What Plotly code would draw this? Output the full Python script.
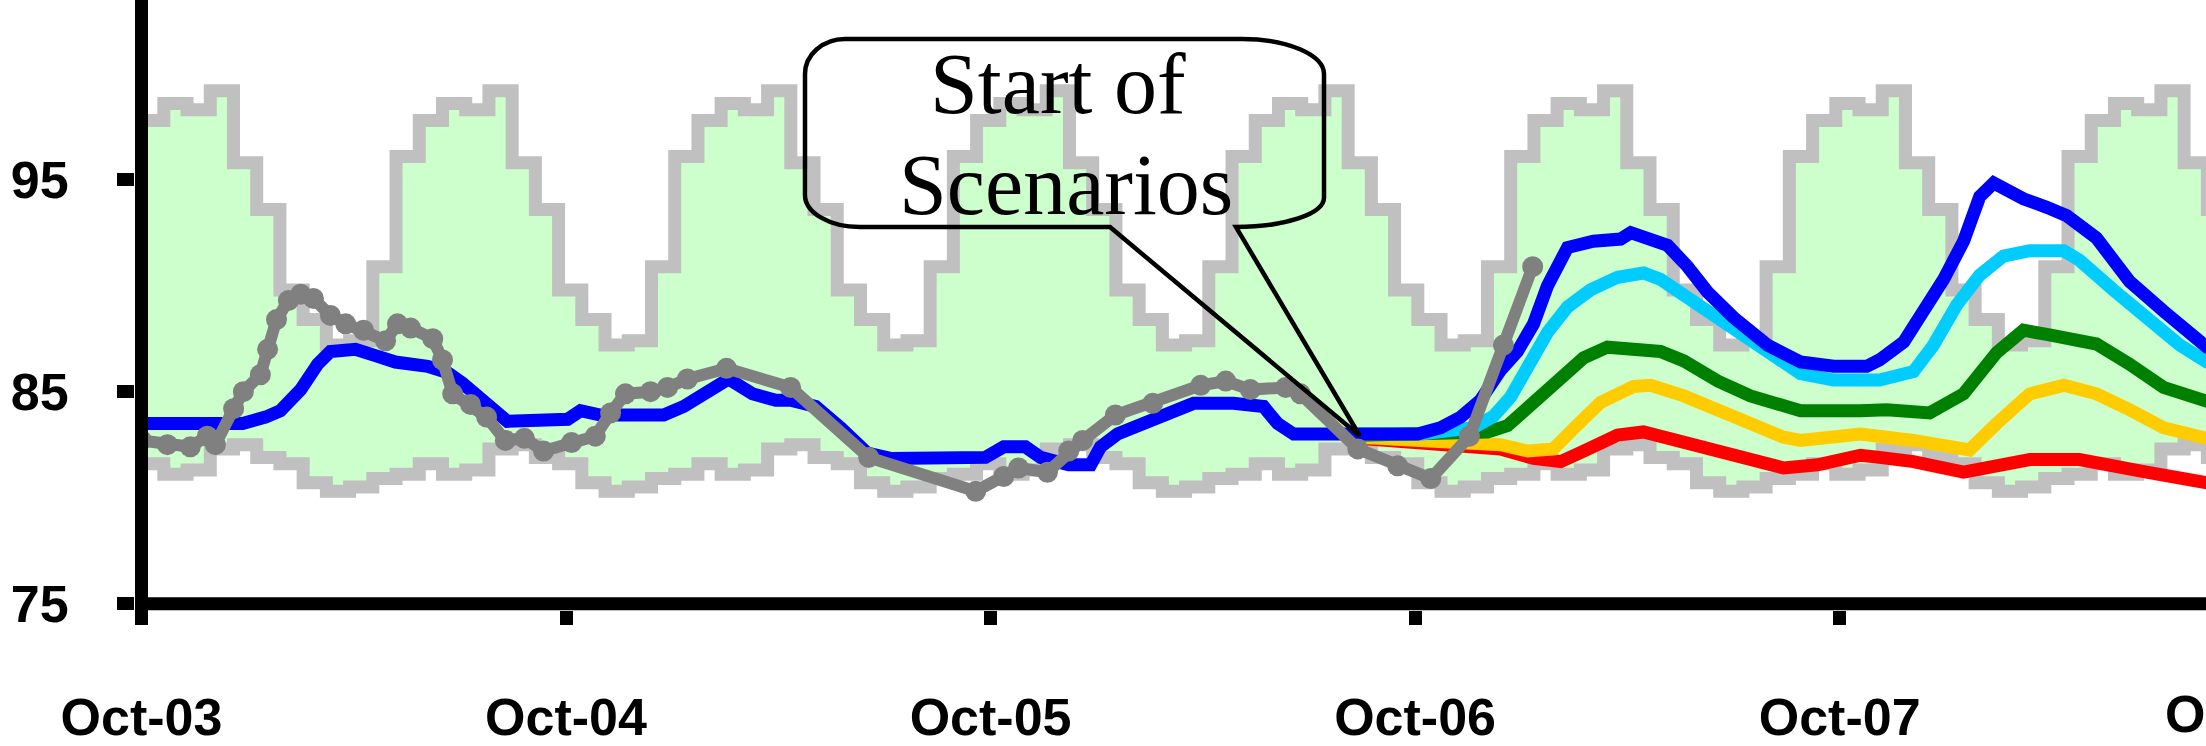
import plotly.graph_objects as go

# ---------------- data ----------------
TICK_VALS = [0, 1, 2, 3, 4, 5]
TICK_TEXT = ["Oct-03", "Oct-04", "Oct-05", "Oct-06", "Oct-07", "Oct-08"]
Y_TICKS = [75, 85, 95]

# seasonal envelope (step values, one per step)
BAND_UPPER = [97.8,
    98.6, 98.3, 99.2, 95.8, 93.6, 89.8, 88.4, 87.2, 87.4, 90.9, 96.1, 97.8,
    98.6, 98.3, 99.2, 95.8, 93.6, 89.8, 88.4, 87.2, 87.4, 90.9, 96.1, 97.8,
    98.6, 98.3, 99.2, 95.8, 93.6, 89.8, 88.4, 87.2, 87.4, 90.9, 96.1, 97.8,
    98.6, 98.3, 99.2, 95.8, 93.6, 89.8, 88.4, 87.2, 87.4, 90.9, 96.1, 97.8,
    98.6, 98.3, 99.2, 95.8, 93.6, 89.8, 88.4, 87.2, 87.4, 90.9, 96.1, 97.8,
    98.6, 98.3, 99.2, 95.8, 93.6, 89.8, 88.4, 87.2, 87.4, 90.9, 96.1, 97.8,
    98.6, 98.3, 99.2, 95.8, 93.6, 89.8, 88.4, 87.2, 87.4, 90.9, 96.1, 97.8,
    98.6, 98.3, 99.2, 95.8, 93.6]
BAND_LOWER = [81.6,
    81.1, 81.3, 82.3, 82.5, 81.9, 81.6, 80.7, 80.3, 80.5, 80.9, 81.1, 81.6,
    81.1, 81.3, 82.3, 82.5, 81.9, 81.6, 80.7, 80.3, 80.5, 80.9, 81.1, 81.6,
    81.1, 81.3, 82.3, 82.5, 81.9, 81.6, 80.7, 80.3, 80.5, 80.9, 81.1, 81.6,
    81.1, 81.3, 82.3, 82.5, 81.9, 81.6, 80.7, 80.3, 80.5, 80.9, 81.1, 81.6,
    81.1, 81.3, 82.3, 82.5, 81.9, 81.6, 80.7, 80.3, 80.5, 80.9, 81.1, 81.6,
    81.1, 81.3, 82.3, 82.5, 81.9, 81.6, 80.7, 80.3, 80.5, 80.9, 81.1, 81.6,
    81.1, 81.3, 82.3, 82.5, 81.9, 81.6, 80.7, 80.3, 80.5, 80.9, 81.1, 81.6,
    81.1, 81.3, 82.3, 82.5, 81.9]
BAND_FIRST_STEP = 0.0526
BAND_STEP = 0.0547

# observed (grey with markers)
OBS_X = [0.000, 0.061, 0.115, 0.155, 0.174, 0.217, 0.240, 0.280, 0.297, 0.318,
         0.346, 0.375, 0.405, 0.445, 0.481, 0.523, 0.575, 0.603, 0.634, 0.686,
         0.709, 0.733, 0.775, 0.813, 0.857, 0.902, 0.947, 1.013, 1.069, 1.105,
         1.140, 1.199, 1.239, 1.286, 1.378, 1.529, 1.713, 1.965, 2.031, 2.066,
         2.134, 2.184, 2.217, 2.294, 2.382, 2.495, 2.554, 2.612, 2.695, 2.730,
         2.865, 2.959, 3.037, 3.128, 3.208, 3.277]
OBS_Y = [82.7, 82.5, 82.4, 82.9, 82.5, 84.2, 85.0, 85.8, 87.0, 88.4,
         89.3, 89.6, 89.4, 88.6, 88.2, 87.9, 87.4, 88.2, 88.0, 87.5,
         86.5, 84.9, 84.4, 83.8, 82.7, 82.8, 82.2, 82.6, 82.9, 84.0,
         84.9, 85.0, 85.2, 85.6, 86.1, 85.2, 81.9, 80.3, 81.0, 81.4,
         81.2, 82.2, 82.7, 83.9, 84.45, 85.3, 85.5, 85.1, 85.2, 84.9,
         82.3, 81.5, 80.9, 82.9, 87.2, 90.9]

# simulated base line (blue), history + highest scenario
BLUE_X = [0.000, 0.186, 0.238, 0.292, 0.327, 0.375, 0.415, 0.445, 0.504, 0.551,
          0.598, 0.674, 0.721, 0.756, 0.822, 0.862, 1.004, 1.034, 1.081, 1.230,
          1.277, 1.347, 1.383, 1.439, 1.494, 1.529, 1.588, 1.647, 1.710, 1.764,
          1.988, 2.031, 2.082, 2.118, 2.184, 2.236, 2.259, 2.299, 2.353, 2.412,
          2.478, 2.572, 2.643, 2.676, 2.714, 2.848, 3.006, 3.060, 3.107, 3.154,
          3.201, 3.241, 3.279, 3.312, 3.359, 3.420, 3.484, 3.508, 3.555, 3.595,
          3.642, 3.689, 3.750, 3.830, 3.908, 3.986, 4.064, 4.094, 4.151, 4.198,
          4.245, 4.292, 4.330, 4.363, 4.433, 4.488, 4.535, 4.605, 4.683, 4.763,
          4.865, 4.95]
BLUE_Y = [83.5, 83.5, 83.5, 83.8, 84.1, 85.1, 86.3, 86.9, 87.0, 86.7,
          86.4, 86.2, 85.9, 85.4, 84.2, 83.6, 83.7, 84.1, 83.9, 83.9,
          84.3, 85.2, 85.6, 84.9, 84.6, 84.6, 84.3, 83.3, 82.1, 81.85,
          81.9, 82.4, 82.4, 81.9, 81.55, 81.55, 82.4, 83.0, 83.4, 83.9,
          84.45, 84.45, 84.3, 83.5, 83.0, 83.0, 83.0, 83.3, 83.8, 84.6,
          86.0, 86.9, 88.2, 90.0, 91.8, 92.1, 92.2, 92.5, 92.2, 91.9,
          90.9, 89.7, 88.5, 87.2, 86.4, 86.2, 86.2, 86.5, 87.35, 88.8,
          90.3, 92.1, 94.2, 94.85, 94.1, 93.7, 93.3, 92.25, 90.2, 88.8,
          87.1, 86.6]

LBLUE_X = [2.867, 3.013, 3.138, 3.185, 3.225, 3.265, 3.312, 3.359, 3.413, 3.477,
           3.538, 3.578, 3.633, 3.713, 3.790, 3.868, 3.908, 3.986, 4.094, 4.174,
           4.221, 4.276, 4.330, 4.386, 4.448, 4.528, 4.565, 4.645, 4.723, 4.801,
           4.865, 4.95]
LBLUE_Y = [83.0, 83.0, 83.3, 83.85, 84.75, 86.1, 87.8, 89.0, 89.8, 90.4,
           90.6, 90.3, 89.55, 88.5, 87.5, 86.3, 85.85, 85.55, 85.55, 85.95,
           87.2, 89.1, 90.5, 91.4, 91.65, 91.65, 91.2, 89.8, 88.4, 87.2,
           86.4, 85.9]

GREEN_X = [2.867, 3.171, 3.218, 3.279, 3.343, 3.397, 3.453, 3.515, 3.578, 3.633,
           3.713, 3.790, 3.868, 3.908, 4.049, 4.111, 4.212, 4.292, 4.370, 4.433,
           4.488, 4.605, 4.683, 4.763, 4.865, 4.95]
GREEN_Y = [82.95, 83.1, 83.4, 84.5, 85.7, 86.6, 87.1, 87.0, 86.9, 86.45,
           85.5, 84.8, 84.3, 84.1, 84.1, 84.15, 84.0, 84.9, 86.85, 87.9,
           87.7, 87.25, 86.3, 85.2, 84.55, 84.2]

YELLOW_X = [2.867, 3.147, 3.201, 3.265, 3.326, 3.373, 3.437, 3.515, 3.555, 3.633,
            3.713, 3.790, 3.868, 3.908, 3.986, 4.049, 4.174, 4.306, 4.370, 4.448,
            4.528, 4.605, 4.683, 4.763, 4.865, 4.95]
YELLOW_Y = [82.85, 82.65, 82.5, 82.2, 82.3, 83.25, 84.5, 85.25, 85.3, 84.8,
            84.15, 83.55, 82.85, 82.7, 82.95, 83.0, 82.7, 82.25, 83.5, 84.9,
            85.3, 84.9, 84.15, 83.3, 82.8, 82.6]

RED_X = [2.867, 3.138, 3.201, 3.279, 3.343, 3.397, 3.477, 3.538, 3.595, 3.673,
         3.750, 3.868, 3.948, 4.049, 4.094, 4.174, 4.292, 4.370, 4.448, 4.565,
         4.645, 4.723, 4.865, 4.95]
RED_Y = [82.8, 82.45, 82.3, 81.85, 81.7, 82.2, 82.95, 83.1, 82.8, 82.3,
         81.9, 81.4, 81.55, 82.0, 81.9, 81.7, 81.2, 81.45, 81.8, 81.8,
         81.55, 81.2, 80.7, 80.5]

SCENARIO_START = (2.870, 82.91)

# ---------------- figure ----------------
W, H = 2206, 746
ML, MB = 135, 120
X_RANGE = [-0.0153, 4.863]
Y_RANGE = [74.70, 103.48]

band_x = [-0.03] + [BAND_FIRST_STEP + k * BAND_STEP for k in range(len(BAND_UPPER) - 1)] + [4.99]
band_up = BAND_UPPER + [BAND_UPPER[-1]]
band_lo = BAND_LOWER + [BAND_LOWER[-1]]

fig = go.Figure()
fig.add_trace(go.Scatter(x=band_x, y=band_lo, mode="lines", line=dict(color="#C0C0C0", width=13, shape="hv"),
                         hoverinfo="skip"))
fig.add_trace(go.Scatter(x=band_x, y=band_up, mode="lines", line=dict(color="#C0C0C0", width=13, shape="hv"),
                         fill="tonexty", fillcolor="#CCFFCC", hoverinfo="skip"))

for xs, ys, col in [(RED_X, RED_Y, "#FF0000"), (YELLOW_X, YELLOW_Y, "#FFCC00"),
                    (GREEN_X, GREEN_Y, "#008000"), (LBLUE_X, LBLUE_Y, "#00CCFF"),
                    (BLUE_X, BLUE_Y, "#0000FF")]:
    fig.add_trace(go.Scatter(x=xs, y=ys, mode="lines", line=dict(color=col, width=13)))

fig.add_trace(go.Scatter(x=OBS_X, y=OBS_Y, mode="lines+markers",
                         line=dict(color="#808080", width=12),
                         marker=dict(color="#808080", size=21)))

# ---- callout (pixel geometry converted to data coordinates) ----
plot_w = W - ML
plot_h = H - MB
def px2x(px):
    return X_RANGE[0] + (px - ML) / plot_w * (X_RANGE[1] - X_RANGE[0])
def py2y(py):
    return Y_RANGE[0] + (plot_h - py) / plot_h * (Y_RANGE[1] - Y_RANGE[0])

L, R, T, B = 805, 1324, 40, 233
base_l, base_r = 1110, 1236
k = 0.448
def P(px, py):
    return f"{px2x(px):.5f},{py2y(py):.5f}"
tip = f"{SCENARIO_START[0]:.5f},{SCENARIO_START[1]:.5f}"
rtl = (40, 36); rtr = (82, 36); rbr = (R - base_r, 30); rbl = (55, 33)
path = (
    f"M {P(L + rtl[0], T)} L {P(R - rtr[0], T)} "
    f"C {P(R - k * rtr[0], T)} {P(R, T + k * rtr[1])} {P(R, T + rtr[1])} "
    f"L {P(R, B - rbr[1])} "
    f"C {P(R, B - k * rbr[1])} {P(R - k * rbr[0], B)} {P(base_r, B)} "
    f"L {tip} L {P(base_l, B)} L {P(L + rbl[0], B)} "
    f"C {P(L + k * rbl[0], B)} {P(L, B - k * rbl[1])} {P(L, B - rbl[1])} "
    f"L {P(L, T + rtl[1])} "
    f"C {P(L, T + k * rtl[1])} {P(L + k * rtl[0], T)} {P(L + rtl[0], T)} Z"
)
fig.add_shape(type="path", path=path, xref="x", yref="y",
              line=dict(color="black", width=4.5), fillcolor="rgba(0,0,0,0)", layer="above")

serif = dict(family="Liberation Serif, Times New Roman, serif", size=86, color="black")
fig.add_annotation(x=px2x(1058), y=py2y(86), xref="x", yref="y", text="Start of",
                   showarrow=False, font=serif, xanchor="center", yanchor="middle")
fig.add_annotation(x=px2x(1066), y=py2y(190), xref="x", yref="y", text="Scenarios",
                   showarrow=False, font=serif, xanchor="center", yanchor="middle")

# axis lines drawn as shapes so that data 75 / Oct-03 sit on their centres
x0_paper = (141.5 - ML) / plot_w
y75_paper = (plot_h - 619.5) / plot_h
fig.add_shape(type="line", xref="paper", yref="paper", x0=x0_paper, x1=x0_paper,
              y0=-(640 - plot_h) / plot_h, y1=1, line=dict(color="black", width=13))
fig.add_shape(type="line", xref="paper", yref="paper", x0=0, x1=1,
              y0=y75_paper, y1=y75_paper, line=dict(color="black", width=13))

tickfont = dict(family="Liberation Sans, Arial, sans-serif", size=52, color="black", weight="bold")
# last tick label falls just past the right edge of the canvas (as in the source picture)
fig.add_annotation(xref="paper", yref="paper", x=(2246 - ML) / plot_w,
                   y=(plot_h - 733) / plot_h, text=TICK_TEXT[-1], showarrow=False,
                   font=tickfont, xanchor="center", yanchor="middle")

fig.update_layout(width=W, height=H, margin=dict(l=ML, r=0, t=0, b=MB),
                  plot_bgcolor="white", paper_bgcolor="white", showlegend=False)
fig.update_xaxes(range=X_RANGE, tickvals=TICK_VALS, ticktext=TICK_TEXT, ticks="outside",
                 ticklen=14, tickwidth=13, tickcolor="black", showline=False, showgrid=False,
                 zeroline=False, tickfont=tickfont, ticklabelstandoff=48)
fig.update_yaxes(range=Y_RANGE, tickvals=Y_TICKS, ticks="outside", ticklen=17, tickwidth=13,
                 tickcolor="black", showline=False, showgrid=False, zeroline=False,
                 tickfont=tickfont, ticklabelstandoff=38)

# pin the figure to the window's top-left corner so it fills the window exactly
post = ("document.documentElement.style.margin='0';document.body.style.margin='0';"
        "document.documentElement.style.overflow='hidden';document.body.style.overflow='hidden';"
        "var d=document.getElementById('{plot_id}');d.style.position='fixed';"
        "d.style.left='0px';d.style.top='0px';")
fig.write_html("out.html", config={"displayModeBar": False}, post_script=post)
